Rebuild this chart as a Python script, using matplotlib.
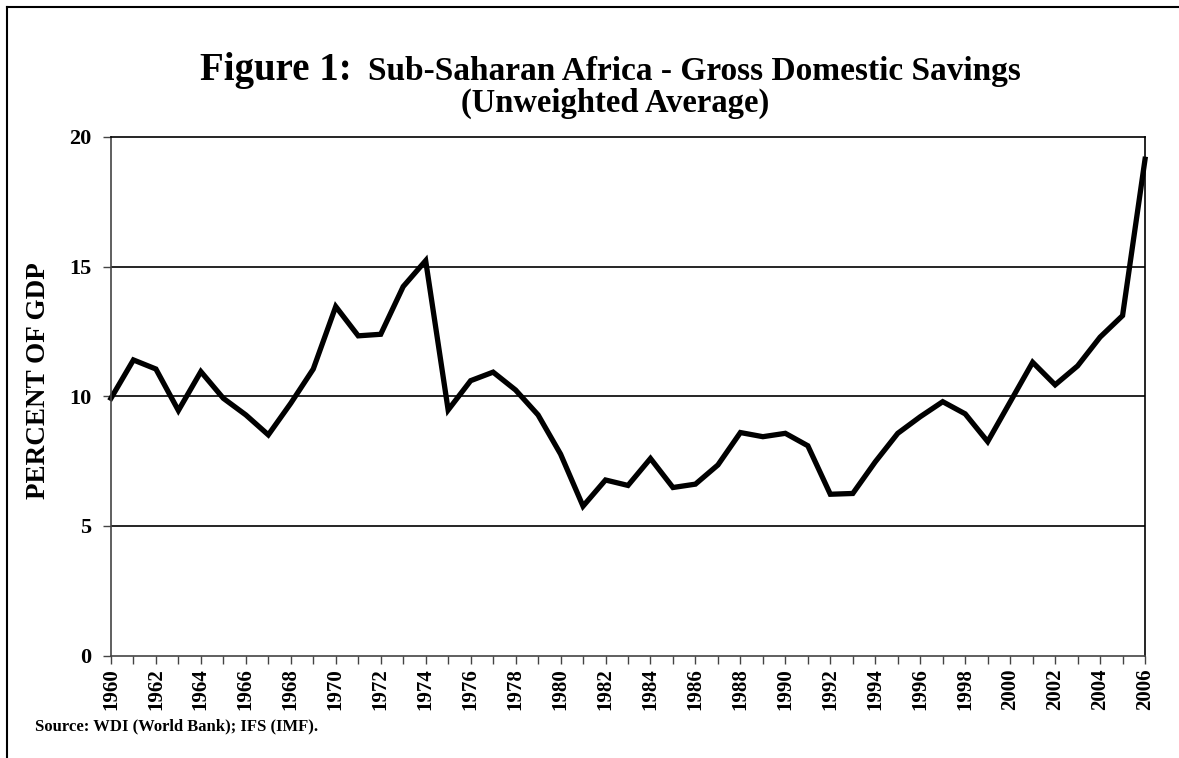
import matplotlib.pyplot as plt
from matplotlib.lines import Line2D

# gross domestic savings, % of GDP (unweighted average)
years = list(range(1960, 2007))
savings = [9.92, 11.40, 11.05, 9.45, 10.95, 9.92, 9.28, 8.51, 9.73, 11.05,
           13.46, 12.33, 12.39, 14.23, 15.23, 9.47, 10.60, 10.93, 10.24, 9.28,
           7.77, 5.76, 6.77, 6.56, 7.60, 6.48, 6.61, 7.35, 8.60, 8.44,
           8.57, 8.09, 6.22, 6.25, 7.47, 8.57, 9.21, 9.79, 9.32, 8.25,
           9.78, 11.31, 10.44, 11.17, 12.28, 13.11, 19.14]
y_ticks = [0, 5, 10, 15, 20]

plt.rcParams['font.family'] = ['Liberation Serif', 'DejaVu Serif']

fig = plt.figure(figsize=(11.79, 7.58), dpi=100)
ax = fig.add_axes([0.0941, 0.1352, 0.9712 - 0.0941, 0.8193 - 0.1352])

ax.plot(years, savings, color='black', linewidth=3.8, solid_joinstyle='miter', clip_on=False)

ax.set_xlim(1960, 2006)
ax.set_ylim(0, 20)
ax.set_yticks(y_ticks)
ax.set_yticklabels([str(v) for v in y_ticks], fontsize=16, fontweight='bold')
ax.set_xticks(years)
ax.set_xticklabels([str(y) if y % 2 == 0 else '' for y in years],
                   rotation=90, fontsize=15, fontweight='bold')
ax.tick_params(axis='both', direction='out', length=6, width=1, color='#444444')
ax.tick_params(axis='x', pad=3)
ax.tick_params(axis='y', pad=8)

for v in [5, 10, 15]:
    ax.axhline(v, color='black', linewidth=1.2, zorder=0)
for s in ax.spines.values():
    s.set_linewidth(1.2)
ax.spines['bottom'].set_color('#444444')
ax.spines['left'].set_color('#444444')

ax.set_ylabel('PERCENT OF GDP', fontsize=19.5, fontweight='bold')
ax.yaxis.set_label_coords(-0.058, 0.53)

fig.text(0.170, 0.8945, 'Figure 1:', fontsize=28, fontweight='bold', ha='left', va='baseline')
fig.text(0.312, 0.8945, 'Sub-Saharan Africa - Gross Domestic Savings', fontsize=24,
         fontweight='bold', ha='left', va='baseline')
fig.text(0.522, 0.852, '(Unweighted Average)', fontsize=23.5, fontweight='bold',
         ha='center', va='baseline')

fig.text(0.030, 0.037, 'Source: WDI (World Bank); IFS (IMF).', fontsize=12,
         fontweight='bold', ha='left', va='baseline')

# figure frame (top and left edges)
fig.add_artist(Line2D([0.006, 1.0], [0.991, 0.991], color='black', linewidth=1.5,
                      transform=fig.transFigure))
fig.add_artist(Line2D([0.006, 0.006], [0.0, 0.991], color='black', linewidth=1.5,
                      transform=fig.transFigure))

fig.savefig('out.png', dpi=100)
